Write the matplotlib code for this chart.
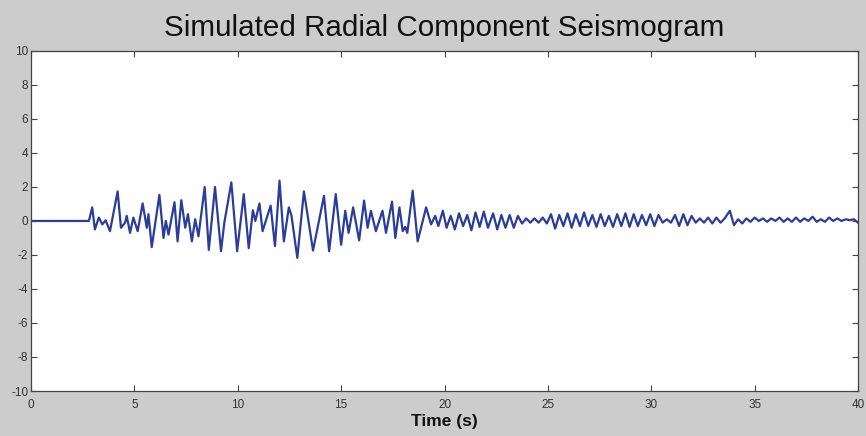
import matplotlib
matplotlib.use("Agg")
import matplotlib.pyplot as plt
from matplotlib import font_manager

# extrema of the trace (time in s, amplitude)
t_early = [0.0, 2.8, 2.96, 3.09, 3.28, 3.45, 3.61, 3.82, 4.19, 4.35, 4.55, 4.63, 4.79, 4.95,
           5.16, 5.4, 5.6, 5.68, 5.84, 6.21, 6.41, 6.52, 6.65, 6.94, 7.09, 7.27, 7.46, 7.59,
           7.78, 7.94, 8.1, 8.4, 8.6, 8.9, 9.19, 9.35, 9.69, 9.97, 10.29, 10.53, 10.73, 10.85,
           11.05, 11.2, 11.59, 11.8, 12.02, 12.23, 12.47, 12.6, 12.88, 13.2, 13.64, 14.17,
           14.42, 14.74, 15.0, 15.2, 15.36, 15.58, 15.87, 16.11, 16.28, 16.44, 16.68, 17.0,
           17.17, 17.46, 17.62, 17.82, 17.98, 18.1, 18.2, 18.46, 18.7, 19.11, 19.35, 19.55,
           19.7, 19.92, 20.1, 20.3]
v_early = [0.0, 0.0, 0.8, -0.5, 0.2, -0.2, 0.04, -0.6, 1.74, -0.4, -0.1, 0.3, -0.7, 0.2,
           -0.6, 1.03, -0.4, 0.4, -1.54, 1.54, -1.0, 0.0, -0.8, 1.1, -1.2, 1.22, -0.4, 0.4,
           -1.2, 0.1, -0.9, 2.0, -1.7, 2.0, -1.78, -0.1, 2.27, -1.78, 1.58, -1.6, 0.63, 0.0,
           1.03, -0.6, 0.9, -1.48, 2.37, -1.2, 0.8, 0.3, -2.17, 1.74, -1.74, 1.48,
           -1.78, 1.58, -1.4, 0.6, -0.7, 0.8, -1.14, 1.2, -0.4, 0.6, -0.6, 0.6,
           -0.7, 1.14, -1.0, 0.8, -0.6, -0.35, -0.7, 1.78, -1.2, 0.8, -0.2, 0.3,
           -0.3, 0.6, -0.4, 0.3]

t_late = [20.5, 20.7, 20.9, 21.1, 21.3, 21.5, 21.7, 21.9, 22.1, 22.35, 22.55, 22.75, 22.95,
          23.15, 23.35, 23.55, 23.75, 23.95, 24.15, 24.35, 24.55, 24.75, 24.95, 25.15, 25.35,
          25.55, 25.75, 25.95, 26.15, 26.35, 26.55, 26.75, 26.95, 27.15, 27.35, 27.55, 27.75,
          27.95, 28.15, 28.35, 28.55, 28.75, 28.95, 29.15, 29.35, 29.55, 29.75, 29.95, 30.15,
          30.35, 30.55, 30.75, 30.95, 31.15, 31.35, 31.55, 31.75, 31.95, 32.15, 32.35, 32.55,
          32.75, 32.95, 33.15, 33.35, 33.55, 33.8, 34.0, 34.2, 34.4, 34.6, 34.8, 35.0, 35.2,
          35.4, 35.6, 35.8, 36.0, 36.2, 36.4, 36.6, 36.8, 37.0, 37.2, 37.4, 37.6, 37.8, 38.0,
          38.2, 38.4, 38.6, 38.8, 39.0, 39.2, 39.4, 39.6, 39.8, 40.0]
v_late = [-0.5, 0.45, -0.3, 0.35, -0.55, 0.5, -0.35, 0.55, -0.4, 0.45, -0.5, 0.35, -0.4,
          0.35, -0.4, 0.3, -0.15, 0.15, -0.1, 0.15, -0.1, 0.2, -0.15, 0.4, -0.45,
          0.35, -0.3, 0.45, -0.4, 0.4, -0.3, 0.5, -0.3, 0.35, -0.35, 0.4, -0.3,
          0.3, -0.35, 0.4, -0.3, 0.45, -0.35, 0.4, -0.3, 0.35, -0.25, 0.4, -0.3,
          0.35, -0.1, 0.1, -0.1, 0.35, -0.3, 0.4, -0.25, 0.3, -0.1, 0.15, -0.1,
          0.2, -0.15, 0.2, -0.1, 0.15, 0.6, -0.25, 0.1, -0.15, 0.15, -0.05, 0.2, 0.0,
          0.15, -0.05, 0.15, 0.0, 0.2, -0.05, 0.15, -0.05, 0.2, -0.05, 0.15, 0.0, 0.25, -0.05,
          0.1, -0.05, 0.2, 0.0, 0.15, 0.0, 0.1, 0.05, 0.1, -0.1]

x_ticks = list(range(0, 41, 5))
y_ticks = list(range(-10, 11, 2))

plt.rcParams["axes.unicode_minus"] = False
installed = {f.name for f in font_manager.fontManager.ttflist}
tick_font = "Liberation Sans Narrow" if "Liberation Sans Narrow" in installed else "Liberation Sans"

fig = plt.figure(figsize=(8.66, 4.36), dpi=100, facecolor="#cccccc")
ax = fig.add_axes([0.0358, 0.1032, 0.955, 0.780])
ax.set_facecolor("white")

ax.plot(t_early + t_late, v_early + v_late, color="#2b3d9b", lw=1.6)

ax.set_xlim(0, 40)
ax.set_ylim(-10, 10)
ax.set_xticks(x_ticks)
ax.set_yticks(y_ticks)
ax.tick_params(direction="in", length=4, width=0.8, colors="#444444",
               top=True, right=True, labelsize=8.5)
ax.tick_params(axis="x", pad=6)
ax.tick_params(axis="y", pad=2)
for lab in ax.get_xticklabels() + ax.get_yticklabels():
    lab.set_family(tick_font)
    lab.set_color("#333333")
for sp in ax.spines.values():
    sp.set_color("#444444")
    sp.set_linewidth(0.9)

ax.set_title("Simulated Radial Component Seismogram", family="Liberation Sans",
             fontsize=21.3, pad=11, color="#111111")
ax.set_xlabel("Time (s)", family=tick_font, fontsize=12.5, fontweight="bold",
              labelpad=2, color="#111111")

fig.savefig("out.png", dpi=100, facecolor=fig.get_facecolor())
